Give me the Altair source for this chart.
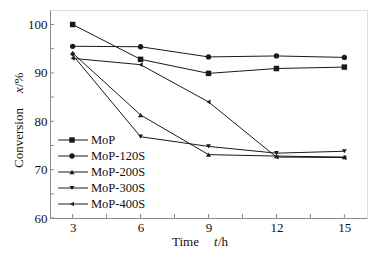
import altair as alt
import pandas as pd

times = [3, 6, 9, 12, 15]
series_names = ["MoP", "MoP-120S", "MoP-200S", "MoP-300S", "MoP-400S"]
mop = [100.0, 92.8, 89.9, 90.9, 91.2]
mop120 = [95.5, 95.4, 93.3, 93.5, 93.2]
mop200 = [94.1, 81.3, 73.1, 72.8, 72.6]
mop300 = [93.7, 76.8, 74.8, 73.4, 73.8]
mop400 = [93.0, 91.7, 84.0, 72.6, 72.5]
shapes = ["square", "circle", "triangle-up", "triangle-down", "triangle-left"]
sizes = [30, 22, 30, 30, 30]
x_major = [3, 6, 9, 12, 15]
x_minor = [4.5, 7.5, 10.5, 13.5]
y_major = [60, 70, 80, 90, 100]
y_minor = [65, 75, 85, 95]

values = [mop, mop120, mop200, mop300, mop400]
rows = []
for name, vals in zip(series_names, values):
    for t, v in zip(times, vals):
        rows.append({"series": name, "t": t, "x": v})
df = pd.DataFrame(rows)

W, H = 317, 208
FONT = "Liberation Serif, Times New Roman, Times, serif"
LINE = "#1a1a1a"
FRAME = "#8a8a8a"

xs = alt.Scale(domain=[2, 16], nice=False, zero=False)
ys = alt.Scale(domain=[60, 103], nice=False, zero=False)
shape_scale = alt.Scale(domain=series_names, range=shapes)
size_scale = alt.Scale(domain=series_names, range=sizes)

base = alt.Chart(df)
lines = base.mark_line(color=LINE, strokeWidth=1).encode(
    x=alt.X("t:Q", scale=xs, axis=alt.Axis(values=x_major, ticks=False, grid=False,
            domainColor=FRAME, labelFont=FONT, labelFontSize=13, labelColor="#111",
            labelPadding=3, title=None)),
    y=alt.Y("x:Q", scale=ys, axis=alt.Axis(values=y_major, ticks=False, grid=False,
            domainColor=FRAME, labelFont=FONT, labelFontSize=13, labelColor="#111",
            labelPadding=3, title=None)),
    detail="series:N",
)
points = base.mark_point(filled=True, color=LINE, opacity=1).encode(
    x=alt.X("t:Q", scale=xs),
    y=alt.Y("x:Q", scale=ys),
    shape=alt.Shape("series:N", scale=shape_scale, legend=None),
    size=alt.Size("series:N", scale=size_scale, legend=None),
)

# inward ticks
xt = pd.DataFrame({"v": x_major + x_minor})
yt = pd.DataFrame({"v": y_major + y_minor})
xticks = alt.Chart(xt).mark_rule(color=FRAME, strokeWidth=1).encode(
    x=alt.X("v:Q", scale=xs), y=alt.value(H), y2=alt.value(H - 4))
yticks = alt.Chart(yt).mark_rule(color=FRAME, strokeWidth=1).encode(
    y=alt.Y("v:Q", scale=ys), x=alt.value(0), x2=alt.value(4))

# legend
leg = pd.DataFrame({"series": series_names,
                    "ly": [130 + 16 * i for i in range(len(series_names))]})
lbase = alt.Chart(leg)
leg_lines = lbase.mark_rule(color=LINE, strokeWidth=1).encode(
    y=alt.Y("ly:Q", scale=None), x=alt.value(8), x2=alt.value(38))
leg_pts = lbase.mark_point(filled=True, color=LINE, opacity=1).encode(
    y=alt.Y("ly:Q", scale=None), x=alt.value(22),
    shape=alt.Shape("series:N", scale=shape_scale, legend=None),
    size=alt.Size("series:N", scale=size_scale, legend=None))
leg_txt = lbase.mark_text(align="left", baseline="middle", font=FONT, fontSize=12.5,
                          color="#111").encode(
    y=alt.Y("ly:Q", scale=None), x=alt.value(41), text="series:N")

# axis titles
def txt(s, x, y, italic=False, angle=0):
    return alt.Chart(pd.DataFrame({"s": [s]})).mark_text(
        align="left", baseline="alphabetic", font=FONT, fontSize=13, color="#111",
        fontStyle="italic" if italic else "normal", angle=angle
    ).encode(x=alt.value(x), y=alt.value(y), text="s:N")

titles = [
    txt("Time", 122, 236),
    txt("t", 164, 236, italic=True),
    txt("/h", 168, 236),
    txt("Conversion", -27, 158, angle=270),
    txt("x", -27, 83, italic=True, angle=270),
    txt("/%", -27, 77, angle=270),
]

chart = alt.layer(lines, points, xticks, yticks, leg_lines, leg_pts, leg_txt, *titles).properties(
    width=W, height=H,
    autosize=alt.AutoSizeParams(type="none"),
    padding={"left": 42, "top": 2, "right": 2, "bottom": 34},
).configure_view(stroke=FRAME, strokeWidth=1).configure(background="white")

chart.save("out.html", embed_options={"renderer": "svg", "actions": False})
